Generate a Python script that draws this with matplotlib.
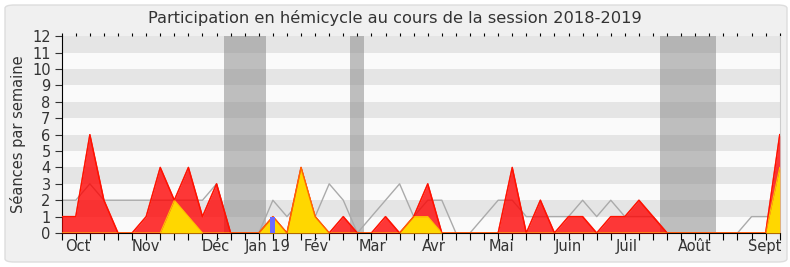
import matplotlib
matplotlib.use("Agg")
import matplotlib.pyplot as plt
from matplotlib.patches import FancyBboxPatch
import numpy as np

# Weekly data (52 weeks, session 2018-2019)
presence = [1, 1, 6, 2, 0, 0, 1, 4, 2, 4, 1, 3, 0, 0, 0, 1, 0, 4, 1, 0,
            1, 0, 0, 1, 0, 1, 3, 0, 0, 0, 0, 0, 4, 0, 2, 0, 1, 1, 0, 1,
            1, 2, 1, 0, 0, 0, 0, 0, 0, 0, 0, 6]
interventions = [0, 0, 0, 0, 0, 0, 0, 0, 2, 1, 0, 0, 0, 0, 0, 1, 0, 4, 1, 0,
                 0, 0, 0, 0, 0, 1, 1, 0, 0, 0, 0, 0, 0, 0, 0, 0, 0, 0, 0, 0,
                 0, 0, 0, 0, 0, 0, 0, 0, 0, 0, 0, 4]
mediane = [2, 2, 3, 2, 2, 2, 2, 2, 2, 2, 2, 3, 0, 0, 0, 2, 1, 2, 1, 3,
           2, 0, 1, 2, 3, 1, 2, 2, 0, 0, 1, 2, 2, 1, 1, 1, 1, 2, 1, 2,
           1, 1, 1, 0, 0, 0, 0, 0, 0, 1, 1, 1]
questions_week = [15]
questions_val = [1]
vacances = [(11.5, 14.5), (20.5, 21.5), (42.5, 46.5)]
month_labels = ["Oct", "Nov", "Déc", "Jan 19", "Fév", "Mar", "Avr", "Mai",
                "Juin", "Juil", "Août", "Sept"]
month_pos = [1.16, 5.96, 10.96, 14.6, 18.06, 22.1, 26.4, 31.2, 35.96, 40.1,
             45.0, 49.95]

weeks = np.arange(len(presence))

fig = plt.figure(figsize=(7.9, 2.67), dpi=100)
fig.patch.set_facecolor("white")
bg = FancyBboxPatch((5 / 790, 5 / 267), 782 / 790, 257 / 267,
                    boxstyle="round,pad=0,rounding_size=0.012",
                    transform=fig.transFigure, facecolor="#F0F0F0",
                    edgecolor="#DDDDDD", linewidth=1, zorder=-10)
fig.patches.append(bg)

ax = fig.add_axes([61.7 / 790, 1 - 233 / 267, (780.3 - 61.7) / 790, (233 - 36.3) / 267])
ax.set_facecolor("#FAFAFA")
ax.set_xlim(0, 51.04)
ax.set_ylim(0, 12)

for k in range(1, 12, 2):
    ax.axhspan(k, k + 1, color="#E5E5E5", zorder=0, lw=0)

for a, b in vacances:
    ax.axvspan(a, b, color="#888888", alpha=0.52, lw=0, zorder=1)

ax.plot(weeks, mediane, color="#AAAAAA", lw=1, zorder=2)
ax.fill_between(weeks, presence, 0, color="#FF0000", alpha=0.78, lw=0, zorder=3)
ax.plot(weeks, presence, color="#FF0000", lw=1, zorder=4)
ax.fill_between(weeks, interventions, 0, color="#FFD700", lw=0, zorder=5)
ax.plot(weeks, interventions, color="#FFC000", lw=0.8, zorder=5.5)
ax.plot(weeks, presence, color="#FF2200", lw=1, alpha=0.55, zorder=6)
ax.bar(questions_week, questions_val, width=0.35, color="#6B6BFF", zorder=7)

ax.set_yticks(range(0, 13))
ax.tick_params(axis="y", direction="out", length=5, labelsize=10.5,
               colors="#333333", pad=3)
ax.xaxis.remove_overlapping_locs = False
ax.set_xticks(weeks)
ax.set_xticklabels([])
ax.tick_params(axis="x", which="major", direction="out", length=5,
               color="black", top=True)
ax.set_xticks(month_pos, minor=True)
ax.set_xticklabels(month_labels, minor=True)
ax.tick_params(axis="x", which="minor", length=0, labelsize=10.5,
               labelcolor="#333333", pad=4)
for t in ax.xaxis.get_major_ticks():
    t.tick2line.set_markersize(2)

ax.spines["top"].set_visible(False)
ax.spines["right"].set_color("#CCCCCC")
ax.spines["left"].set_color("black")
ax.spines["bottom"].set_color("black")

ax.set_ylabel("Séances par semaine", fontsize=10.5, color="#333333", labelpad=4)
fig.text(0.5, 1 - 18 / 267, "Participation en hémicycle au cours de la session 2018-2019",
         ha="center", va="center", fontsize=11.7, color="#333333")

fig.savefig("out.png", dpi=100, facecolor=fig.get_facecolor())
